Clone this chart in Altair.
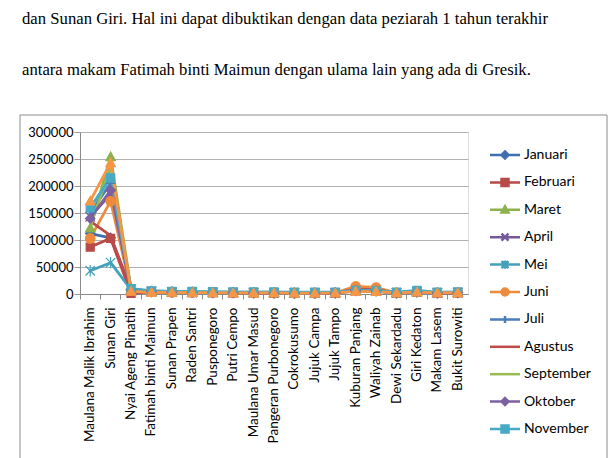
import altair as alt
import pandas as pd

# ---------------- data ----------------
categories = [
    "Maulana Malik Ibrahim", "Sunan Giri", "Nyai Ageng Pinatih", "Fatimah binti Maimun",
    "Sunan Prapen", "Raden Santri", "Pusponegoro", "Putri Cempo", "Maulana Umar Masud",
    "Pangeran Purbonegoro", "Cokrokusumo", "Jujuk Campa", "Jujuk Tampo", "Kuburan Panjang",
    "Waliyah Zainab", "Dewi Sekardadu", "Giri Kedaton", "Makam Lasem", "Bukit Surowiti",
]
months = ["Januari", "Februari", "Maret", "April", "Mei", "Juni", "Juli",
          "Agustus", "September", "Oktober", "November", "Desember"]

januari   = [112000, 104000, 9000, 5000, 3500, 3000, 3000, 2500, 2000, 2000, 1500, 1500, 2000, 7000, 6000, 2000, 4000, 2000, 2500]
februari  = [87000, 103000, 1000, 4000, 3000, 2500, 2500, 2000, 2000, 1500, 1500, 1500, 1500, 6000, 5000, 1500, 3500, 1500, 2000]
maret     = [122000, 254000, 9000, 5000, 4000, 3500, 3000, 3000, 2500, 2500, 2000, 2000, 2500, 7000, 6500, 2500, 4500, 2500, 3000]
april     = [143000, 185000, 8000, 5000, 3500, 3000, 3000, 2500, 2500, 2000, 2000, 2000, 2000, 7000, 6000, 2000, 4000, 2000, 2500]
mei       = [43000, 58000, 8000, 4500, 3500, 3000, 2500, 2500, 2000, 2000, 1500, 1500, 2000, 6500, 5500, 2000, 4000, 2000, 2500]
juni      = [103000, 172000, 6000, 4000, 3000, 3000, 2500, 2500, 2000, 2000, 1500, 1500, 2000, 14000, 12000, 2000, 4000, 2000, 2500]
juli      = [150000, 205000, 9000, 5000, 4000, 3500, 3000, 3000, 2500, 2500, 2000, 2000, 2500, 7500, 6500, 2500, 4500, 2500, 3000]
agustus   = [135000, 108000, 7000, 4500, 3500, 3000, 3000, 2500, 2000, 2000, 1500, 1500, 2000, 9000, 8000, 2000, 4000, 2000, 2500]
september = [125000, 235000, 8000, 5000, 4000, 3500, 3000, 3000, 2500, 2500, 2000, 2000, 2500, 7000, 6500, 2500, 4500, 2500, 3000]
oktober   = [140000, 192000, 8000, 5000, 3500, 3000, 3000, 2500, 2500, 2000, 2000, 2000, 2000, 7000, 6000, 2000, 4000, 2000, 2500]
november  = [160000, 215000, 10000, 6000, 5000, 5000, 4500, 4000, 4000, 4000, 3500, 3500, 3500, 6500, 6000, 3500, 6500, 3500, 4000]
desember  = [172000, 243000, 5000, 3000, 3000, 2500, 2500, 2000, 2000, 2000, 1500, 1500, 2000, 5000, 4500, 2000, 3500, 2000, 2500]

series = [januari, februari, maret, april, mei, juni, juli,
          agustus, september, oktober, november, desember]

y_ticks = [0, 50000, 100000, 150000, 200000, 250000, 300000]

text_line1 = "dan Sunan Giri. Hal ini dapat dibuktikan dengan data peziarah 1 tahun terakhir"
text_line2 = "antara makam Fatimah binti Maimun dengan ulama lain yang ada di Gresik."

# ---------------- styles ----------------
colors = ["#3F6FB0", "#B84A47", "#8CB14F", "#76599A", "#43A1BA", "#EE8A3C",
          "#4A7EBB", "#BE4B48", "#98B954", "#7D60A0", "#46AAC5", "#F79646"]


def diamond(s): return f"M0,{-s}L{s},0L0,{s}L{-s},0Z"
def square(s): return f"M{-s},{-s}H{s}V{s}H{-s}Z"
def triangle(s): return f"M0,{-s}L{s},{0.8*s}H{-s}Z"
def xmark(s): return f"M{-s},{-s}L{s},{s}M{-s},{s}L{s},{-s}"
def star(s): return f"M{-s},{-s}L{s},{s}M{-s},{s}L{s},{-s}M0,{-1.2*s}V{1.2*s}"
def circle(s): return f"M{s},0A{s},{s} 0 1,1 {-s},0A{s},{s} 0 1,1 {s},0Z"
def plus(s): return f"M{-s},0H{s}M0,{-s}V{s}"
def none(s): return "M0,0"


marker_fns = [diamond, square, triangle, xmark, star, circle, plus, none, none, diamond, square, triangle]
plot_shapes = [f(1.0) if f is not square else f(0.85) for f in marker_fns]
legend_shapes = ["M-3,0H3" + (f(0.7) if f is not none else "") for f in marker_fns]

FONT = "Lato"

rows = []
for m, vals in zip(months, series):
    for c, v in zip(categories, vals):
        rows.append({"tempat": c, "bulan": m, "peziarah": v})
df = pd.DataFrame(rows)

x_enc = alt.X("tempat:N", sort=categories, bandPosition=0.5,
              scale=alt.Scale(type="band", paddingInner=0, paddingOuter=0),
              axis=alt.Axis(title=None, labelAngle=-90, labelAlign="right", labelBaseline="middle",
                            labelFont=FONT, labelFontSize=13.5, labelColor="#000000",
                            labelPadding=8, tickSize=5, tickColor="#8a8a8a", bandPosition=0,
                            domainColor="#8a8a8a", grid=False, labelLimit=300))
y_enc = alt.Y("peziarah:Q", scale=alt.Scale(domain=[0, 300000], nice=False),
              axis=alt.Axis(title=None, values=y_ticks, format="d", labelFont=FONT,
                            labelFontSize=13, labelColor="#000000", labelPadding=1,
                            tickSize=6, tickColor="#9a9a9a", domainColor="#8a8a8a",
                            gridColor="#b0b0b0", gridWidth=1))

cscale = alt.Scale(domain=months, range=colors)

lines = alt.Chart(df).mark_line(strokeWidth=2.8, strokeJoin="round", strokeCap="round").encode(
    x=x_enc, y=y_enc,
    color=alt.Color("bulan:N", scale=cscale, legend=None),
    detail="bulan:N",
)

points = alt.Chart(df).transform_filter(
    "datum.bulan != 'Agustus' && datum.bulan != 'September'"
).mark_point(filled=True, opacity=1, size=90, strokeWidth=1.2).encode(
    x=x_enc, y=y_enc,
    color=alt.Color("bulan:N", scale=cscale, legend=None),
    stroke=alt.Stroke("bulan:N", scale=cscale, legend=None),
    shape=alt.Shape("bulan:N", scale=alt.Scale(domain=months, range=plot_shapes), legend=None),
)

leg = alt.Legend(title=None, orient="none", legendX=418, legendY=16, values=months[:11],
                 symbolSize=100, symbolStrokeWidth=2.5, symbolOpacity=1,
                 labelFont=FONT, labelFontSize=14, labelColor="#000000", labelOffset=12,
                 rowPadding=7.4, padding=0, gridAlign="all")

legend_layer = alt.Chart(df).transform_filter(
    "datum.tempat == 'Maulana Malik Ibrahim'"
).mark_point(filled=True, opacity=0, size=100, strokeWidth=2.5).encode(
    x=x_enc, y=y_enc,
    color=alt.Color("bulan:N", scale=cscale, legend=leg),
    stroke=alt.Stroke("bulan:N", scale=cscale, legend=leg),
    shape=alt.Shape("bulan:N", scale=alt.Scale(domain=months, range=legend_shapes), legend=leg),
)

frame = alt.Chart(alt.Data(values=[{"f": 1}])).mark_rect(
    fill="transparent", stroke="#8c8c8c", strokeWidth=1
).encode(x=alt.value(-60), x2=alt.value(527), y=alt.value(-17), y2=alt.value(400))

text_style = dict(font="Liberation Serif", fontSize=16.7, color="#000000",
                  align="left", baseline="alphabetic")
para1 = alt.Chart(alt.Data(values=[{"t": text_line1}])).mark_text(**text_style).encode(
    text="t:N", x=alt.value(-58), y=alt.value(-108))
para2 = alt.Chart(alt.Data(values=[{"t": text_line2}])).mark_text(**text_style).encode(
    text="t:N", x=alt.value(-58), y=alt.value(-57))

chart = alt.layer(frame, para1, para2, lines, points, legend_layer).resolve_scale(
    color="independent", stroke="independent", shape="independent"
).properties(
    width=388, height=162,
    padding={"left": 80, "top": 132, "right": 144, "bottom": 164},
    autosize=alt.AutoSizeParams(type="none"),
).configure_view(stroke=None).configure(background="white")

chart.save("out.html", embed_options={"renderer": "svg", "actions": False})
